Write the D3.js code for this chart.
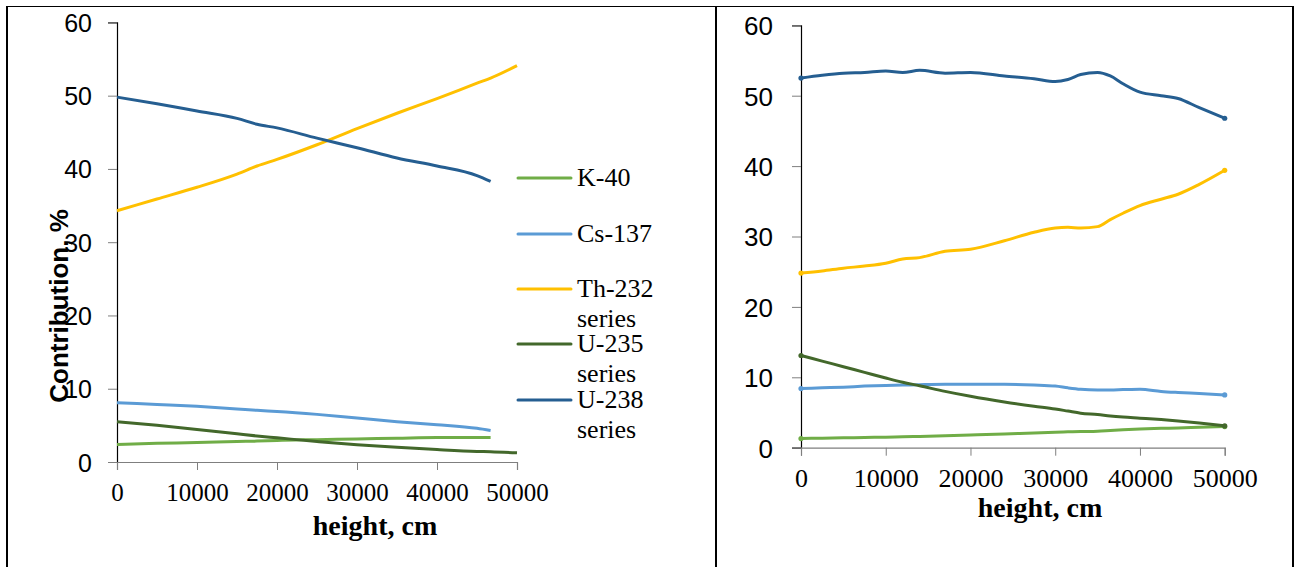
<!DOCTYPE html>
<html>
<head>
<meta charset="utf-8">
<script src="https://cdn.jsdelivr.net/npm/d3@7"></script>
<style>
  html, body { margin: 0; padding: 0; background: #fff; }
  svg { display: block; }
</style>
</head>
<body>
<svg id="chart" width="1300" height="567"></svg>
<script>
// Series names and colours
const seriesNames = ["K-40", "Cs-137", "Th-232 series", "U-235 series", "U-238 series"];
const seriesColors = ["#70AD47", "#5B9BD5", "#FFC000", "#43682B", "#255E91"];

// Left panel: contribution (%) vs height (cm)
const heightsLeft = [0, 5000, 10000, 15000, 17500, 20000, 25000, 30000, 35000, 40000, 45000, 46700, 50000];
const k40Left   = [2.4, 2.55, 2.65, 2.8, 2.85, 2.95, 3.05, 3.15, 3.25, 3.35, 3.35, 3.35, null];
const cs137Left = [8.1, 7.85, 7.6, 7.25, 7.05, 6.9, 6.5, 6.0, 5.5, 5.1, 4.6, 4.3, null];
const th232Left = [34.3, 35.9, 37.5, 39.3, 40.4, 41.3, 43.3, 45.5, 47.6, 49.6, 51.7, 52.4, 54.1];
const u235Left  = [5.5, 5.0, 4.45, 3.85, 3.55, 3.3, 2.8, 2.35, 2.0, 1.7, 1.45, 1.4, 1.25];
const u238Left  = [49.8, 48.9, 47.9, 46.9, 46.1, 45.6, 44.2, 42.9, 41.5, 40.4, 39.1, 38.3, null];

// Right panel
const heightsRight = [0, 2500, 5000, 7500, 10000, 12000, 14000, 17000, 20000, 24000, 27500, 30000, 31500, 33000, 35000, 36500, 38000, 40000, 42500, 44500, 47000, 50000];
const k40Right   = [1.3, 1.35, 1.4, 1.45, 1.5, 1.55, 1.6, 1.7, 1.8, 1.95, 2.1, 2.2, 2.25, 2.3, 2.35, 2.45, 2.55, 2.65, 2.75, 2.8, 2.9, 3.0];
const cs137Right = [8.4, 8.5, 8.6, 8.75, 8.85, 8.9, 8.95, 9.0, 9.0, 9.0, 8.9, 8.75, 8.5, 8.3, 8.2, 8.2, 8.25, 8.3, 8.0, 7.85, 7.7, 7.5];
const th232Right = [24.8, 25.1, 25.5, 25.8, 26.2, 26.8, 27.0, 27.9, 28.2, 29.4, 30.6, 31.2, 31.3, 31.2, 31.4, 32.4, 33.3, 34.4, 35.3, 36.0, 37.4, 39.4];
const u235Right  = [13.1, 12.3, 11.5, 10.7, 9.9, 9.3, 8.8, 8.0, 7.3, 6.5, 5.9, 5.5, 5.2, 4.9, 4.7, 4.5, 4.35, 4.2, 4.0, 3.8, 3.5, 3.1];
const u238Right  = [52.5, 52.9, 53.2, 53.3, 53.5, 53.3, 53.6, 53.2, 53.3, 52.8, 52.4, 52.0, 52.3, 53.0, 53.3, 52.8, 51.7, 50.5, 50.0, 49.6, 48.3, 46.8];

// Axis ticks
const xTicks = [0, 10000, 20000, 30000, 40000, 50000];
const yTicks = [0, 10, 20, 30, 40, 50, 60];

const svg = d3.select("#chart");

// Table frame around the two panels
const frame = svg.append("g").attr("stroke", "#000").attr("fill", "none");
frame.append("line").attr("x1", 6).attr("x2", 1294).attr("y1", 6.5).attr("y2", 6.5).attr("stroke-width", 1.2);
frame.append("line").attr("x1", 7).attr("x2", 7).attr("y1", 6).attr("y2", 567).attr("stroke-width", 2);
frame.append("line").attr("x1", 716).attr("x2", 716).attr("y1", 6).attr("y2", 567).attr("stroke-width", 2);
frame.append("line").attr("x1", 1293).attr("x2", 1293).attr("y1", 6).attr("y2", 567).attr("stroke-width", 2);

function drawPanel(cfg) {
  const x = d3.scaleLinear().domain([0, 50000]).range([cfg.x0, cfg.x1]);
  const y = d3.scaleLinear().domain([0, 60]).range([cfg.y0, cfg.y1]);
  const g = svg.append("g");

  // Y axis
  const yAxis = g.append("g")
    .attr("transform", `translate(${cfg.x0},0)`)
    .call(d3.axisLeft(y).tickValues(yTicks).tickSize(9).tickPadding(cfg.yPad).tickFormat(d3.format("d")));
  yAxis.select(".domain").attr("stroke", "#000").attr("stroke-width", 1.2);
  yAxis.selectAll(".tick line").attr("stroke", "#7f7f7f");
  yAxis.selectAll("text")
    .attr("font-family", "Liberation Sans, Arial, sans-serif")
    .attr("font-size", cfg.yFont).attr("fill", "#000").attr("dy", "0.36em");

  // X axis
  const xAxis = g.append("g")
    .attr("transform", `translate(0,${cfg.y0})`)
    .call(d3.axisBottom(x).tickValues(xTicks).tickSize(8).tickPadding(13).tickFormat(d3.format("d")));
  xAxis.select(".domain").attr("stroke", "#7f7f7f").attr("stroke-width", 1.2);
  xAxis.selectAll(".tick line").attr("stroke", "#7f7f7f");
  xAxis.selectAll("text")
    .attr("font-family", "Liberation Serif, 'Times New Roman', serif")
    .attr("font-size", cfg.xFont).attr("fill", "#000");

  // X axis title
  g.append("text")
    .attr("x", cfg.titleX).attr("y", cfg.titleY)
    .attr("text-anchor", "middle")
    .attr("font-family", "Liberation Serif, 'Times New Roman', serif")
    .attr("font-weight", "bold").attr("font-size", 28)
    .text("height, cm");

  // Series lines
  const line = d3.line()
    .defined(d => d[1] != null)
    .x(d => x(d[0])).y(d => y(d[1]))
    .curve(d3.curveMonotoneX);

  cfg.series.forEach((vals, i) => {
    const pts = cfg.heights.map((h, j) => [h, vals[j]]);
    g.append("path")
      .datum(pts)
      .attr("fill", "none")
      .attr("stroke", seriesColors[i])
      .attr("stroke-width", 3)
      .attr("stroke-linejoin", "round")
      .attr("d", line);
    if (cfg.endDots) {
      const valid = pts.filter(d => d[1] != null);
      [valid[0], valid[valid.length - 1]].forEach(p => {
        g.append("circle").attr("cx", x(p[0])).attr("cy", y(p[1])).attr("r", 2.6)
          .attr("fill", seriesColors[i]);
      });
    }
  });
  return g;
}

// Left panel
drawPanel({
  x0: 117, x1: 517, y0: 462, y1: 22.4,
  yPad: 16, yFont: 25, xFont: 25,
  titleX: 375, titleY: 535,
  heights: heightsLeft,
  series: [k40Left, cs137Left, th232Left, u235Left, u238Left],
  endDots: false
});

// Right panel
drawPanel({
  x0: 801, x1: 1224.7, y0: 447.7, y1: 25.3,
  yPad: 19, yFont: 26, xFont: 26,
  titleX: 1040, titleY: 517,
  heights: heightsRight,
  series: [k40Right, cs137Right, th232Right, u235Right, u238Right],
  endDots: true
});

// Y axis title of the left panel
svg.append("text")
  .attr("transform", "translate(68,306) rotate(-90)")
  .attr("text-anchor", "middle")
  .attr("font-family", "Liberation Sans, Arial, sans-serif")
  .attr("font-weight", "bold").attr("font-size", 26)
  .text("Contribution, %");

// Legend
const legendY = [178, 234, 289, 344, 400];
const legend = svg.append("g");
seriesNames.forEach((name, i) => {
  const ly = legendY[i];
  legend.append("line")
    .attr("x1", 518).attr("x2", 571).attr("y1", ly).attr("y2", ly)
    .attr("stroke", seriesColors[i]).attr("stroke-width", 3).attr("stroke-linecap", "round");
  const words = name.split(" ");
  const t = legend.append("text")
    .attr("x", 577).attr("y", ly + 8)
    .attr("font-family", "Liberation Serif, 'Times New Roman', serif")
    .attr("font-size", 26);
  words.forEach((w, k) => {
    t.append("tspan").attr("x", 577).attr("dy", k === 0 ? 0 : 29.5).text(w);
  });
});
</script>
</body>
</html>
